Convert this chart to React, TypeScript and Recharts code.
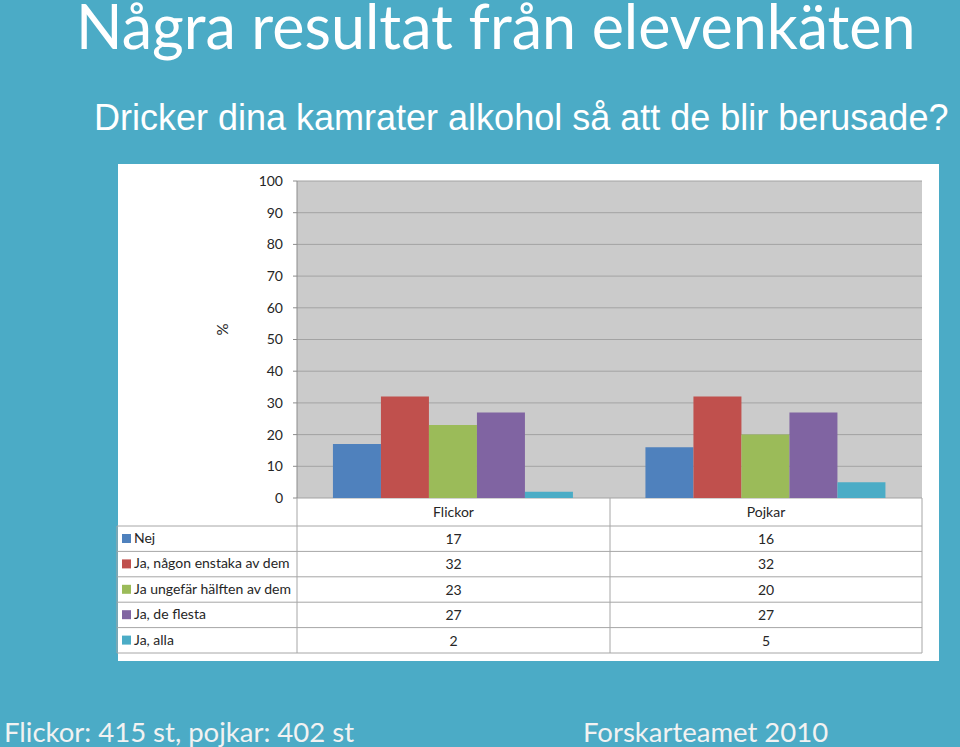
import React from "react";
import { Bar, BarChart, CartesianGrid, XAxis, YAxis } from "recharts";

const groups = ["Flickor", "Pojkar"];
const answers = [
  "Nej",
  "Ja, någon enstaka av dem",
  "Ja ungefär hälften av dem",
  "Ja, de flesta",
  "Ja, alla",
];
const flickor = [17, 32, 23, 27, 2];
const pojkar = [16, 32, 20, 27, 5];
const yTicks = [0, 10, 20, 30, 40, 50, 60, 70, 80, 90, 100];
const colors = ["#4F81BD", "#C0504D", "#9BBB59", "#8064A2", "#4BACC6"];

const title = "Några resultat från elevenkäten";
const subtitle = "Dricker dina kamrater alkohol så att de blir berusade?";
const footLeft = "Flickor: 415 st, pojkar: 402 st";
const footRight = "Forskarteamet 2010";

const seriesValues = [flickor, pojkar];
const data = groups.map((name, gi) => {
  const row: Record<string, string | number> = { name };
  answers.forEach((_, ai) => {
    row["s" + ai] = seriesValues[gi][ai];
  });
  return row;
});

const W = 960;
const H = 747;
const FONT = "Lato, 'Open Sans', sans-serif";
const plot = { left: 297, right: 922, top: 181, bottom: 498 };
const yAxisWidth = 100;

// data table under the plot
const colX = [117, 297, 610, 922];
const headTop = 498;
const rowTop = 526;
const rowH = 25.4;
const gridCol = "#A6A6A6";

function PercentLabel(props: any) {
  const vb = props.viewBox || {};
  const x = vb.x + 25;
  const y = vb.y + vb.height / 2 - 10;
  return (
    <text x={x} y={y} transform={`rotate(-90 ${x} ${y})`} textAnchor="middle" dominantBaseline="central" fontFamily={FONT} fontSize={15} fill="#262626">
      %
    </text>
  );
}

function DataTable() {
  const bottom = rowTop + rowH * answers.length;
  return (
    <svg width={W} height={H} style={{ position: "absolute", left: 0, top: 0, pointerEvents: "none" }}>
      {groups.map((g, gi) => (
        <text key={g} x={(colX[gi + 1] + colX[gi + 2]) / 2} y={headTop + 19} textAnchor="middle" fontFamily={FONT} fontSize={14} fill="#262626">
          {g}
        </text>
      ))}
      {answers.map((a, ai) => {
        const top = rowTop + rowH * ai;
        return (
          <g key={a}>
            <line x1={colX[0]} x2={colX[3]} y1={top} y2={top} stroke={gridCol} />
            <rect x={122} y={top + 8} width={9} height={9} fill={colors[ai]} />
            <text x={134} y={top + 17} fontFamily={FONT} fontSize={14} fill="#262626">
              {a}
            </text>
            {seriesValues.map((vals, gi) => (
              <text key={gi} x={(colX[gi + 1] + colX[gi + 2]) / 2} y={top + 18} textAnchor="middle" fontFamily={FONT} fontSize={14} fill="#262626">
                {vals[ai]}
              </text>
            ))}
          </g>
        );
      })}
      <line x1={colX[0]} x2={colX[3]} y1={bottom} y2={bottom} stroke={gridCol} />
      <line x1={colX[0]} x2={colX[0]} y1={rowTop} y2={bottom} stroke={gridCol} />
      <line x1={colX[1]} x2={colX[1]} y1={headTop} y2={bottom} stroke={gridCol} />
      <line x1={colX[2]} x2={colX[2]} y1={headTop} y2={bottom} stroke={gridCol} />
      <line x1={colX[3]} x2={colX[3]} y1={headTop} y2={bottom} stroke={gridCol} />
    </svg>
  );
}

export default function App() {
  return (
    <div style={{ position: "absolute", left: 0, top: 0, width: W, height: H, background: "#4BABC6", overflow: "hidden" }}>
      <svg width={W} height={H} style={{ position: "absolute", left: 0, top: 0 }}>
        <text x={76} y={49} fontFamily={FONT} fontSize={61} fill="#FFFFFF">
          {title}
        </text>
        <text x={94} y={130} fontFamily="'Liberation Sans', Arial, sans-serif" fontSize={36} fill="#FFFFFF">
          {subtitle}
        </text>
        <text x={4} y={742} fontFamily={FONT} fontSize={27.5} fill="#F2F2F2">
          {footLeft}
        </text>
        <text x={583} y={742} fontFamily={FONT} fontSize={27.5} fill="#F2F2F2">
          {footRight}
        </text>
      </svg>
      <div style={{ position: "absolute", left: 118, top: 164, width: 821, height: 497, background: "#FFFFFF" }} />
      <div style={{ position: "absolute", left: 0, top: 0 }}>
        <BarChart
          width={W}
          height={H}
          data={data}
          margin={{ top: plot.top, right: W - plot.right, bottom: H - plot.bottom, left: plot.left - yAxisWidth }}
          barCategoryGap="11.5%"
          barGap={0}
        >
          <CartesianGrid vertical={false} fill="#CBCBCB" stroke="#A3A3A3" />
          <XAxis dataKey="name" hide />
          <YAxis
            width={yAxisWidth}
            domain={[0, 100]}
            ticks={yTicks}
            interval={0}
            axisLine={{ stroke: "#8C8C8C" }}
            tickLine={{ stroke: "#8C8C8C" }}
            tickSize={4}
            tickMargin={10}
            tick={{ fill: "#262626", fontSize: 14, fontFamily: FONT }}
            label={<PercentLabel />}
          />
          {answers.map((a, ai) => (
            <Bar key={a} dataKey={"s" + ai} name={a} fill={colors[ai]} isAnimationActive={false} />
          ))}
        </BarChart>
      </div>
      <DataTable />
    </div>
  );
}
